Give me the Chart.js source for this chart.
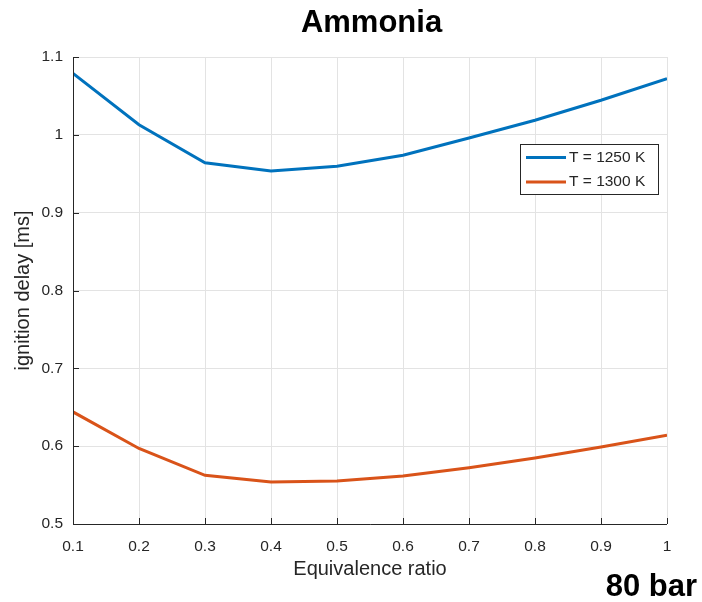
<!DOCTYPE html>
<html><head><meta charset="utf-8">
<script src="https://cdn.jsdelivr.net/npm/chart.js@4/dist/chart.umd.min.js"></script>
<style>html,body{margin:0;padding:0;background:#fff}#wrap{width:702px;height:602px}</style>
</head><body><div id="wrap"><canvas id="c" width="702" height="602"></canvas></div>
<script>
const equivalenceRatio = [0.1,0.2,0.3,0.4,0.5,0.6,0.7,0.8,0.9,1.0];
const delay1250 = [1.079,1.013,0.964,0.9535,0.9596,0.9737,0.996,1.0187,1.0444,1.0722];
const delay1300 = [0.644,0.597,0.5625,0.554,0.5552,0.5617,0.5724,0.5848,0.599,0.614];
const seriesLabels = ['T = 1250 K','T = 1300 K'];
const yTicks = [0.5,0.6,0.7,0.8,0.9,1,1.1];
const xTicks = [0.1,0.2,0.3,0.4,0.5,0.6,0.7,0.8,0.9,1];
const titleText = 'Ammonia';
const cornerText = '80 bar';
const xTitle = 'Equivalence ratio';
const yTitle = 'ignition delay [ms]';

const FONT = '"Liberation Sans", Arial, Helvetica, sans-serif';
const TXT = '#262626';
const AX = '#262626';

const extras = {
  id:'extras',
  afterDraw(chart){
    const ctx = chart.ctx, a = chart.chartArea;
    const xs = chart.scales.x, ys = chart.scales.y;
    ctx.save();
    // axes lines
    ctx.strokeStyle = AX; ctx.lineWidth = 1;
    ctx.beginPath();
    ctx.moveTo(a.left+0.5, a.top); ctx.lineTo(a.left+0.5, a.bottom+0.5); ctx.lineTo(a.right, a.bottom+0.5);
    ctx.stroke();
    // inward ticks
    ctx.beginPath();
    yTicks.forEach(v=>{const p=Math.round(ys.getPixelForValue(v))+0.5; ctx.moveTo(a.left, p); ctx.lineTo(a.left+6, p);});
    xTicks.forEach(v=>{const p=Math.round(xs.getPixelForValue(v))+0.5; ctx.moveTo(p, a.bottom); ctx.lineTo(p, a.bottom-6);});
    ctx.stroke();
    // axis titles
    ctx.fillStyle = TXT;
    ctx.font = '20px ' + FONT;
    ctx.textAlign = 'center'; ctx.textBaseline = 'middle';
    ctx.fillText(xTitle, (a.left+a.right)/2, 569);
    ctx.save();
    ctx.translate(23, (a.top+a.bottom)/2);
    ctx.rotate(-Math.PI/2);
    ctx.fillText(yTitle, 0, 0);
    ctx.restore();
    // title
    ctx.fillStyle = '#000';
    ctx.font = 'bold 31px ' + FONT;
    ctx.textAlign = 'center'; ctx.textBaseline = 'middle';
    ctx.fillText(titleText, 371.5, 23);
    ctx.textAlign = 'right';
    ctx.fillText(cornerText, 697, 587);
    // legend
    const ds = chart.data.datasets;
    const bx = 520, by = 144, bw = 138, bh = 50;
    ctx.fillStyle = '#fff'; ctx.fillRect(bx, by, bw, bh);
    ctx.strokeStyle = AX; ctx.lineWidth = 1;
    ctx.strokeRect(bx+0.5, by+0.5, bw, bh);
    ctx.font = '15.5px ' + FONT; ctx.textAlign = 'left'; ctx.textBaseline = 'middle';
    ds.forEach((d,i)=>{
      const yy = by + 13.5 + i*24.5;
      ctx.strokeStyle = d.borderColor; ctx.lineWidth = 3;
      ctx.beginPath(); ctx.moveTo(bx+6, yy); ctx.lineTo(bx+46, yy); ctx.stroke();
      ctx.fillStyle = TXT; ctx.fillText(d.label, bx+49, yy);
    });
    ctx.restore();
  }
};

new Chart(document.getElementById('c'), {
  type:'line',
  data:{
    datasets:[
      {label:seriesLabels[0], data:equivalenceRatio.map((x,i)=>({x, y:delay1250[i]})), borderColor:'#0072BD', borderWidth:3, pointRadius:0, tension:0, fill:false},
      {label:seriesLabels[1], data:equivalenceRatio.map((x,i)=>({x, y:delay1300[i]})), borderColor:'#D95319', borderWidth:3, pointRadius:0, tension:0, fill:false}
    ]
  },
  options:{
    responsive:false, animation:false, devicePixelRatio:1,
    layout:{padding:{top:57,right:35,left:0,bottom:0}},
    plugins:{legend:{display:false}, title:{display:false}, tooltip:{enabled:false}},
    scales:{
      x:{type:'linear', min:0.1, max:1,
        afterBuildTicks(s){s.ticks = xTicks.map(v=>({value:v}));},
        afterFit(s){s.height = 78;},
        grid:{color:'#e3e3e3', drawTicks:false},
        border:{display:false},
        ticks:{font:{family:FONT,size:15.5}, color:TXT, padding:13, maxRotation:0,
          callback:(v)=>String(Math.round(v*10)/10)},
        title:{display:false}
      },
      y:{type:'linear', min:0.5, max:1.1,
        afterBuildTicks(s){s.ticks = yTicks.map(v=>({value:v}));},
        afterFit(s){s.width = 73;},
        grid:{color:'#e3e3e3', drawTicks:false},
        border:{display:false},
        ticks:{font:{family:FONT,size:15.5}, color:TXT, padding:10,
          callback:(v)=>String(Math.round(v*10)/10)},
        title:{display:false}
      }
    }
  },
  plugins:[extras]
});
</script></body></html>
